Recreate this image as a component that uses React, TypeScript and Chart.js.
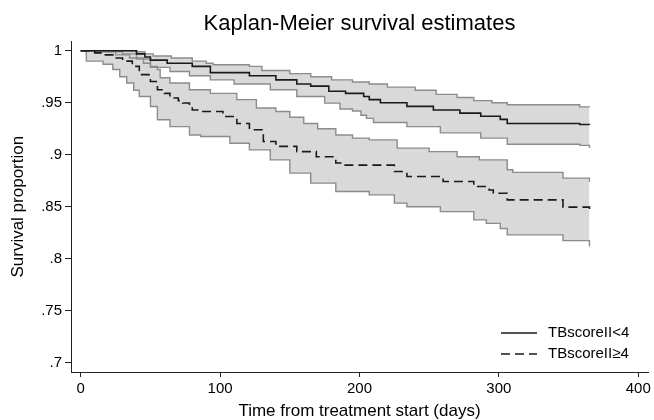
import React, { useEffect, useRef } from "react";
import { Chart, registerables } from "chart.js";

Chart.register(...registerables);

// ---------- data ----------
const seriesLabels = ["TBscoreII<4", "TBscoreII\u22654"];

// TBscoreII<4 : Kaplan-Meier estimate
const lowEstT = [0, 40, 46, 50, 62, 80, 93, 121, 140, 155, 165, 178, 190, 203, 207, 215, 234, 253, 272, 287, 301, 306, 358, 365];
const lowEstV = [1, 0.997, 0.994, 0.991, 0.988, 0.985, 0.979, 0.976, 0.972, 0.968, 0.966, 0.961, 0.959, 0.956, 0.953, 0.95, 0.9465, 0.943, 0.94, 0.937, 0.934, 0.93, 0.929, 0.9288];
// TBscoreII<4 : upper 95% CI
const lowUpT = [0, 40, 46, 52, 65, 80, 90, 95, 121, 130, 150, 165, 180, 195, 207, 220, 240, 255, 270, 282, 295, 306, 358, 365];
const lowUpV = [1, 0.999, 0.997, 0.995, 0.993, 0.99, 0.988, 0.9865, 0.985, 0.981, 0.978, 0.975, 0.972, 0.97, 0.968, 0.965, 0.962, 0.958, 0.955, 0.952, 0.95, 0.948, 0.946, 0.9458];
// TBscoreII<4 : lower 95% CI
const lowLoT = [0, 15, 25, 35, 45, 50, 64, 78, 93, 110, 136, 155, 175, 186, 195, 201, 205, 210, 234, 258, 287, 306, 358, 365];
const lowLoV = [1, 0.999, 0.996, 0.993, 0.988, 0.984, 0.98, 0.976, 0.972, 0.968, 0.9625, 0.956, 0.9496, 0.944, 0.942, 0.938, 0.935, 0.931, 0.927, 0.921, 0.916, 0.91, 0.909, 0.9064];

// TBscoreII>=4 : Kaplan-Meier estimate
const highEstT = [0, 10, 16, 23, 30, 37, 42, 50, 55, 60, 64, 70, 73, 78, 80, 86, 102, 112, 121, 131, 140, 155, 169, 183, 188, 225, 234, 260, 282, 293, 296, 306, 346, 365];
const highEstV = [1, 0.998, 0.996, 0.993, 0.99, 0.985, 0.977, 0.9705, 0.9625, 0.959, 0.9545, 0.952, 0.9497, 0.9464, 0.943, 0.9416, 0.9368, 0.93, 0.924, 0.9127, 0.908, 0.903, 0.898, 0.892, 0.89, 0.8838, 0.879, 0.8742, 0.8694, 0.866, 0.863, 0.8566, 0.8496, 0.8453];
// TBscoreII>=4 : upper 95% CI
const highUpT = [0, 20, 30, 40, 50, 55, 57, 64, 78, 93, 112, 126, 140, 150, 160, 170, 183, 195, 207, 227, 250, 270, 286, 306, 310, 346, 365];
const highUpV = [1, 0.999, 0.997, 0.992, 0.985, 0.982, 0.974, 0.969, 0.9625, 0.959, 0.953, 0.945, 0.9416, 0.936, 0.93, 0.925, 0.919, 0.916, 0.9143, 0.9063, 0.903, 0.898, 0.895, 0.8855, 0.883, 0.8775, 0.874];
// TBscoreII>=4 : lower 95% CI
const highLoT = [0, 4, 16, 23, 28, 33, 38, 42, 50, 55, 64, 78, 86, 107, 121, 136, 150, 165, 183, 207, 225, 234, 258, 282, 291, 301, 306, 346, 365];
const highLoV = [1, 0.99, 0.987, 0.982, 0.975, 0.969, 0.962, 0.956, 0.9464, 0.9336, 0.927, 0.919, 0.9175, 0.911, 0.9047, 0.895, 0.8823, 0.8727, 0.8646, 0.8614, 0.8534, 0.85, 0.8453, 0.8373, 0.834, 0.829, 0.8229, 0.8174, 0.8117];

const xTicks = [0, 100, 200, 300, 400];
const yTicks = [0.7, 0.75, 0.8, 0.85, 0.9, 0.95, 1];
const yTickLabels = [".7", ".75", ".8", ".85", ".9", ".95", "1"];

// ---------- styles ----------
const FONT = '"Liberation Sans", Arial, Helvetica, sans-serif';
const BAND_FILL = "#d9d9d9";
const CI_LINE = "#8c8c8c";
const EST_LINE = "#1a1a1a";
const DASH = [9, 5];

const toPoints = (t: number[], v: number[]) => t.map((x, i) => ({ x, y: v[i] }));

const legendPlugin = {
  id: "kmLegend",
  afterDraw(chart: any) {
    const ctx = chart.ctx as CanvasRenderingContext2D;
    ctx.save();
    seriesLabels.forEach((label, i) => {
      const y = 333 + i * 21;
      ctx.strokeStyle = EST_LINE;
      ctx.lineWidth = 1.6;
      ctx.setLineDash(i === 1 ? DASH : []);
      ctx.beginPath();
      ctx.moveTo(501, y);
      ctx.lineTo(537, y);
      ctx.stroke();
      ctx.setLineDash([]);
      ctx.fillStyle = "#000";
      ctx.font = `15px ${FONT}`;
      ctx.textBaseline = "middle";
      ctx.textAlign = "left";
      ctx.fillText(label, 548, y);
    });
    ctx.restore();
  },
};

export default function App() {
  const canvasRef = useRef<HTMLCanvasElement | null>(null);

  useEffect(() => {
    document.body.style.margin = "0";
    const canvas = canvasRef.current;
    if (!canvas) return;

    const lineBase = { pointRadius: 0, pointHoverRadius: 0, stepped: true as const, tension: 0 };

    const chart = new Chart(canvas, {
      type: "line",
      data: {
        datasets: [
          { ...lineBase, label: seriesLabels[0], data: toPoints(lowEstT, lowEstV), borderColor: EST_LINE, borderWidth: 1.6, fill: false },
          { ...lineBase, label: seriesLabels[1], data: toPoints(highEstT, highEstV), borderColor: EST_LINE, borderWidth: 1.6, borderDash: DASH, fill: false },
          { ...lineBase, label: "lowUp", data: toPoints(lowUpT, lowUpV), borderColor: CI_LINE, borderWidth: 1.4, backgroundColor: BAND_FILL, fill: "+1" },
          { ...lineBase, label: "lowLo", data: toPoints(lowLoT, lowLoV), borderColor: CI_LINE, borderWidth: 1.4, fill: false },
          { ...lineBase, label: "highUp", data: toPoints(highUpT, highUpV), borderColor: CI_LINE, borderWidth: 1.4, backgroundColor: BAND_FILL, fill: "+1" },
          { ...lineBase, label: "highLo", data: toPoints(highLoT, highLoV), borderColor: CI_LINE, borderWidth: 1.4, fill: false },
        ],
      },
      options: {
        responsive: false,
        animation: false,
        events: [],
        layout: { padding: { left: 0, right: 6, top: 0, bottom: 0 } },
        plugins: {
          legend: { display: false },
          tooltip: { enabled: false },
          filler: { drawTime: "beforeDatasetsDraw" },
          title: {
            display: true,
            text: "Kaplan-Meier survival estimates",
            fullSize: false,
            color: "#000",
            font: { family: FONT, size: 22, weight: "normal", lineHeight: 1.2 },
            padding: { top: 11, bottom: 4 },
          },
        },
        scales: {
          x: {
            type: "linear",
            min: -7,
            max: 407,
            afterBuildTicks: (s: any) => {
              s.ticks = xTicks.map((v) => ({ value: v }));
            },
            afterFit: (s: any) => {
              s.height = 48;
            },
            ticks: {
              autoSkip: false,
              maxRotation: 0,
              color: "#000",
              padding: 3,
              font: { family: FONT, size: 15 },
              callback: (v: any) => String(v),
            },
            grid: { drawOnChartArea: false, drawTicks: true, tickLength: 5, color: "#222", lineWidth: 1 },
            border: { display: true, color: "#222", width: 1 },
            title: {
              display: true,
              text: "Time from treatment start (days)",
              color: "#000",
              font: { family: FONT, size: 17, lineHeight: 1 },
              padding: { top: 0, bottom: 0 },
            },
          },
          y: {
            type: "linear",
            min: 0.691,
            max: 1.009,
            afterBuildTicks: (s: any) => {
              s.ticks = yTicks.map((v) => ({ value: v }));
            },
            afterFit: (s: any) => {
              s.width = 71;
            },
            ticks: {
              autoSkip: false,
              color: "#000",
              padding: 3,
              font: { family: FONT, size: 15 },
              callback: (v: any) => {
                const i = yTicks.findIndex((t) => Math.abs(t - Number(v)) < 1e-9);
                return i >= 0 ? yTickLabels[i] : "";
              },
            },
            grid: { drawOnChartArea: false, drawTicks: true, tickLength: 6, color: "#222", lineWidth: 1 },
            border: { display: true, color: "#222", width: 1 },
            title: {
              display: true,
              text: "Survival proportion",
              color: "#000",
              font: { family: FONT, size: 17, lineHeight: 1.2 },
              padding: { top: 8, bottom: 0 },
            },
          },
        },
      } as any,
      plugins: [legendPlugin],
    });

    return () => chart.destroy();
  }, []);

  return (
    <div style={{ position: "relative", width: 654, height: 420 }}>
      <canvas ref={canvasRef} width={654} height={420} style={{ display: "block" }} />
    </div>
  );
}
